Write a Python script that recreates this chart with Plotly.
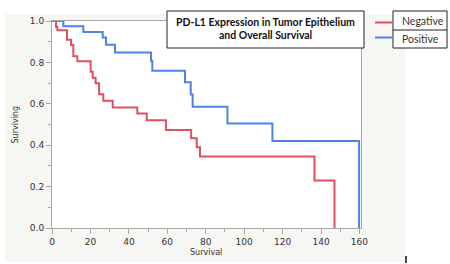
import plotly.graph_objects as go

# ---- data ----
times_neg = [0, 2.1, 2.8, 7.8, 9.9, 11.1, 13.2, 20.1, 21.2, 22.7, 24.5, 26.7, 31.6,
             44.4, 49.3, 59.3, 72.4, 75.3, 77.0, 136.6, 147.0]
surv_neg = [1.0, 0.972, 0.955, 0.91, 0.884, 0.83, 0.806, 0.755, 0.726, 0.699, 0.646,
            0.615, 0.582, 0.553, 0.52, 0.473, 0.433, 0.39, 0.345, 0.23, 0.0]

times_pos = [0, 5.9, 16.3, 26.4, 28.1, 32.8, 51.5, 52.2, 69.2, 72.2, 73.2, 91.3, 114.7, 159.8]
surv_pos = [1.0, 0.975, 0.947, 0.92, 0.885, 0.848, 0.808, 0.76, 0.704, 0.645, 0.586,
            0.505, 0.42, 0.0]

x_ticks = [0, 20, 40, 60, 80, 100, 120, 140, 160]
y_ticks = [0.0, 0.2, 0.4, 0.6, 0.8, 1.0]
series_names = ["Negative", "Positive"]
title_lines = ["PD-L1 Expression in Tumor Epithelium", "and Overall Survival"]
x_title = "Survival"
y_title = "Surviving"

RED = "#e0505f"
BLUE = "#4f82e6"
AXIS = "#a8a8a8"
PANEL = "#f6f6f3"

W, H = 450, 264
L, R, T, B = 52, 361, 21, 228


def px(x):
    return (x - L) / (R - L)


def py(y):
    return (B - y) / (B - T)


fig = go.Figure()
fig.add_trace(go.Scatter(x=times_neg, y=surv_neg, mode="lines", line_shape="hv",
                         line=dict(color=RED, width=2), name=series_names[0], showlegend=False))
fig.add_trace(go.Scatter(x=times_pos, y=surv_pos, mode="lines", line_shape="hv",
                         line=dict(color=BLUE, width=2), name=series_names[1], showlegend=False))

shapes = []
# white regions around the grey panel
for (x0, x1, y0, y1) in [(0, W, 0, 14), (0, 5, 0, H), (406, W, 0, H), (0, W, 262, H)]:
    shapes.append(dict(type="rect", xref="paper", yref="paper", x0=px(x0), x1=px(x1),
                       y0=py(y1), y1=py(y0), fillcolor="white", line=dict(width=0), layer="below"))
# title box
shapes.append(dict(type="rect", xref="paper", yref="paper", x0=px(167), x1=px(364),
                   y0=py(48), y1=py(11), fillcolor="white", line=dict(color="#222", width=1)))
# legend box
shapes.append(dict(type="rect", xref="paper", yref="paper", x0=px(393), x1=px(447),
                   y0=py(48), y1=py(11), fillcolor="white", line=dict(color="#222", width=1)))
shapes.append(dict(type="line", xref="paper", yref="paper", x0=px(393), x1=px(447),
                   y0=py(30), y1=py(30), line=dict(color="#222", width=1)))
shapes.append(dict(type="line", xref="paper", yref="paper", x0=px(375), x1=px(392),
                   y0=py(22.5), y1=py(22.5), line=dict(color=RED, width=2)))
shapes.append(dict(type="line", xref="paper", yref="paper", x0=px(375), x1=px(392),
                   y0=py(37.5), y1=py(37.5), line=dict(color=BLUE, width=2)))
# small cursor mark
shapes.append(dict(type="line", xref="paper", yref="paper", x0=px(406), x1=px(406),
                   y0=py(263), y1=py(256), line=dict(color="#111", width=1.5)))

annotations = [
    dict(text=title_lines[0], x=px(265.5), y=py(22), xref="paper", yref="paper",
         showarrow=False, xanchor="center", yanchor="middle",
         font=dict(family="Lato", size=10.5, color="#111", weight="bold")),
    dict(text=title_lines[1], x=px(265.5), y=py(35.5), xref="paper", yref="paper",
         showarrow=False, xanchor="center", yanchor="middle",
         font=dict(family="Lato", size=10.5, color="#111", weight="bold")),
    dict(text=series_names[0], x=px(400), y=py(21), xref="paper", yref="paper",
         showarrow=False, xanchor="left", yanchor="middle",
         font=dict(family="Lato", size=10.5, color="#333")),
    dict(text=series_names[1], x=px(400), y=py(38.5), xref="paper", yref="paper",
         showarrow=False, xanchor="left", yanchor="middle",
         font=dict(family="Lato", size=10.5, color="#333")),
    dict(text=x_title, x=px(206), y=py(252), xref="paper", yref="paper",
         showarrow=False, xanchor="center", yanchor="middle",
         font=dict(family="DejaVu Sans", size=8, color="#333")),
    dict(text=y_title, x=px(15), y=py(124.5), xref="paper", yref="paper",
         showarrow=False, xanchor="center", yanchor="middle", textangle=-90,
         font=dict(family="DejaVu Sans", size=8, color="#333")),
]

fig.update_layout(
    width=W, height=H,
    margin=dict(l=L, r=W - R, t=T, b=H - B, pad=0),
    paper_bgcolor=PANEL, plot_bgcolor="white",
    shapes=shapes, annotations=annotations, showlegend=False,
    xaxis=dict(range=[0, 160.8], tickvals=x_ticks, ticks="outside", ticklen=5, tickwidth=1,
               tickcolor=AXIS, showline=True, linecolor=AXIS, linewidth=1, mirror=True,
               showgrid=False, zeroline=False,
               tickfont=dict(family="DejaVu Sans", size=9, color="#333"),
               minor=dict(dtick=10, ticks="outside", ticklen=3, tickcolor=AXIS, showgrid=False)),
    yaxis=dict(range=[0, 1], tickvals=y_ticks, tickformat=".1f", ticks="outside", ticklen=5,
               tickwidth=1, tickcolor=AXIS, showline=True, linecolor=AXIS, linewidth=1,
               mirror=True, showgrid=False, zeroline=False,
               tickfont=dict(family="DejaVu Sans", size=9, color="#333"),
               minor=dict(dtick=0.1, ticks="outside", ticklen=3, tickcolor=AXIS, showgrid=False)),
)

fig.write_html("out.html", config={"displayModeBar": False},
               post_script="document.body.style.margin='0';document.body.style.overflow='hidden';")
